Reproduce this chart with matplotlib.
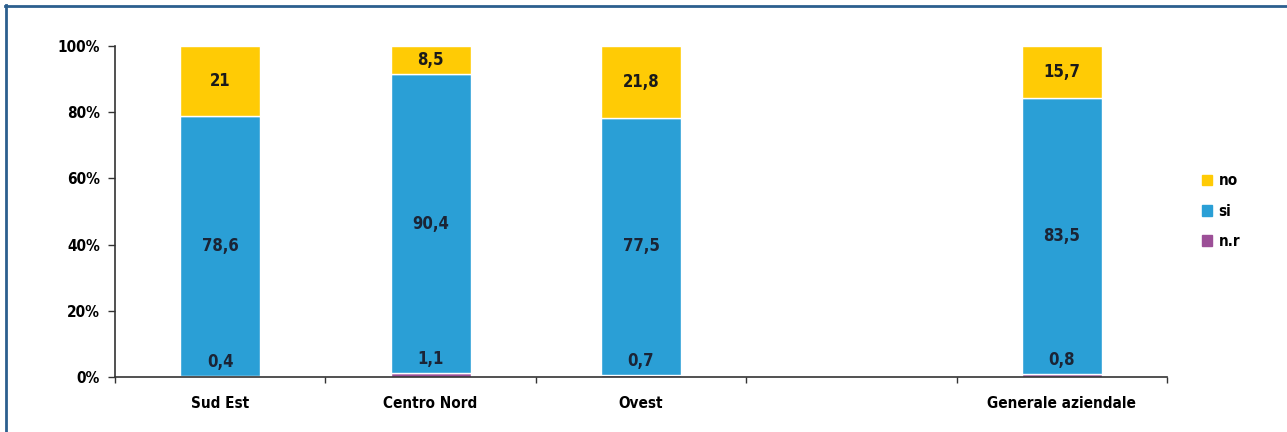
import numpy as np
import matplotlib.pyplot as plt
from matplotlib.lines import Line2D
from matplotlib.patches import Patch

plt.rcParams['font.family'] = ['Liberation Sans Narrow', 'DejaVu Sans']
plt.rcParams['font.stretch'] = 'condensed'
plt.rcParams['font.weight'] = 'bold'

# one empty slot between the areas and the company total
categories = ['Sud Est', 'Centro Nord', 'Ovest', '', 'Generale aziendale']
nr = [0.4, 1.1, 0.7, np.nan, 0.8]
si = [78.6, 90.4, 77.5, np.nan, 83.5]
no = [21, 8.5, 21.8, np.nan, 15.7]

c_no = '#ffcb05'
c_si = '#2a9fd6'
c_nr = '#9c4f97'


def fmt(v):
    return ('%g' % v).replace('.', ',')


fig = plt.figure(figsize=(12.87, 4.32), dpi=100)
ax = fig.add_axes([115 / 1287, 1 - 377 / 432, 1052 / 1287, 331 / 432])

x = np.arange(len(categories))
nr_a = np.array(nr)
si_a = np.array(si)
no_a = np.array(no)
w = 0.38
ax.bar(x, nr_a, w, color=c_nr, edgecolor='white', linewidth=1)
ax.bar(x, si_a, w, bottom=nr_a, color=c_si, edgecolor='white', linewidth=1)
ax.bar(x, no_a, w, bottom=nr_a + si_a, color=c_no, edgecolor='white', linewidth=1)

for i in range(len(categories)):
    if np.isnan(si_a[i]):
        continue
    ax.text(x[i], nr_a[i] + 1.5, fmt(nr_a[i]), ha='center', va='bottom',
            fontsize=12, color='#1b2435')
    ax.text(x[i], nr_a[i] + si_a[i] / 2, fmt(si_a[i]), ha='center', va='center',
            fontsize=12, color='#1b2435')
    ax.text(x[i], nr_a[i] + si_a[i] + no_a[i] / 2, fmt(no_a[i]), ha='center',
            va='center', fontsize=12, color='#1a1a1a')

ax.set_xlim(-0.5, len(categories) - 0.5)
ax.set_ylim(0, 100)
ax.set_yticks(np.arange(0, 101, 20))
ax.set_yticklabels(['%d%%' % v for v in range(0, 101, 20)], fontsize=11)
ax.set_xticks(x)
ax.set_xticklabels(categories, fontsize=11)
ax.set_xticks(np.arange(-0.5, len(categories)), minor=True)
ax.tick_params(axis='x', which='major', length=0, pad=14)
ax.tick_params(axis='x', which='minor', length=4, width=1, color='#333333')
ax.tick_params(axis='y', length=5, width=1, color='#333333', pad=6)
for s in ['top', 'right']:
    ax.spines[s].set_visible(False)
for s in ['left', 'bottom']:
    ax.spines[s].set_color('#333333')
    ax.spines[s].set_linewidth(1.2)

handles = [Patch(color=c_no, label='no'), Patch(color=c_si, label='si'),
           Patch(color=c_nr, label='n.r')]
fig.legend(handles=handles, loc='center left',
           bbox_to_anchor=(1188 / 1287, 1 - 211 / 432), frameon=False,
           handlelength=0.7, handleheight=0.7, handletextpad=0.4,
           labelspacing=1.0, prop={'size': 11, 'weight': 'bold'})

# frame lines along the top and left edge
fig.add_artist(Line2D([5 / 1287, 1], [1 - 6 / 432] * 2, color='#2c5f8e', lw=2))
fig.add_artist(Line2D([6 / 1287] * 2, [0, 1 - 5 / 432], color='#2c5f8e', lw=2))

fig.savefig('out.png', dpi=100)
